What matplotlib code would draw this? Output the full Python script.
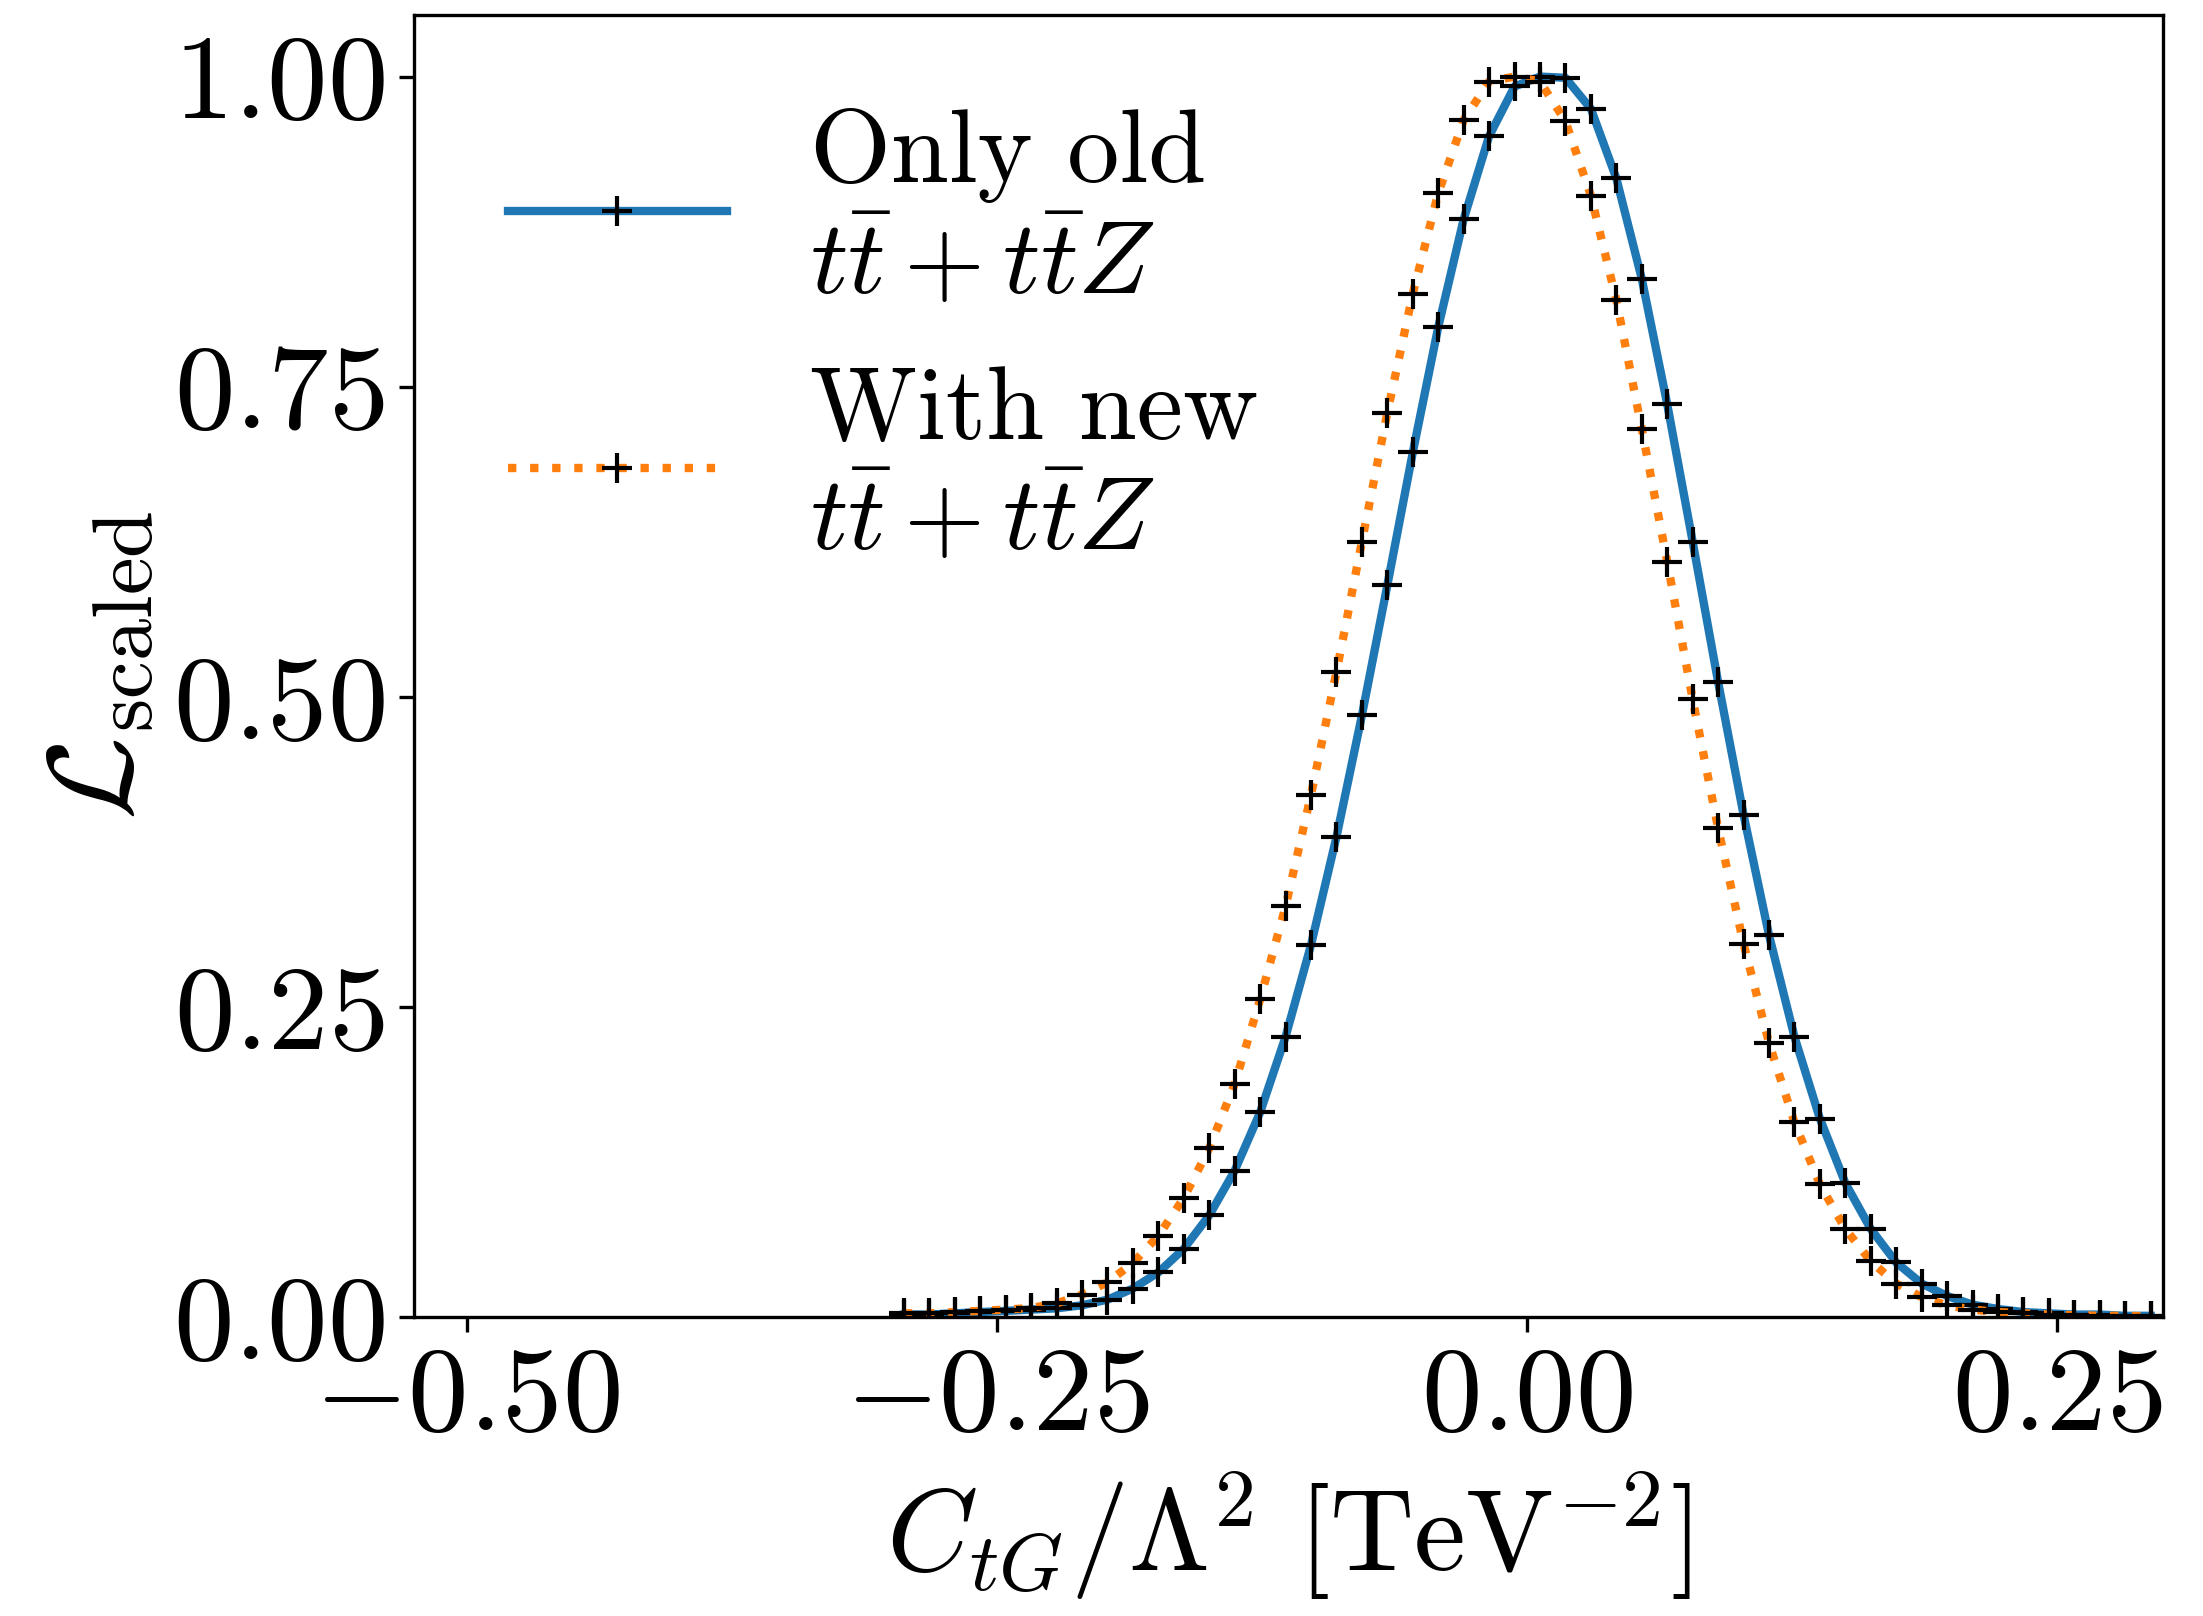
import numpy as np
import matplotlib
matplotlib.use("Agg")
import matplotlib.pyplot as plt

plt.rcParams['font.family'] = 'serif'
plt.rcParams['font.serif'] = ['cmr10']
plt.rcParams['mathtext.fontset'] = 'cm'
plt.rcParams['axes.formatter.use_mathtext'] = True

# bin centres of the likelihood scan (50 bins on [-0.3, 0.3])
edges = np.linspace(-0.3, 0.3, 51)
c_tg = 0.5 * (edges[:-1] + edges[1:])

# scaled likelihood, only old data
like_old = [0.002, 0.002, 0.003, 0.004, 0.005, 0.006, 0.007, 0.0095, 0.014, 0.023,
            0.036, 0.055, 0.082, 0.118, 0.165, 0.226, 0.300, 0.387, 0.485, 0.590,
            0.697, 0.798, 0.885, 0.952, 0.992, 1.000, 0.999, 0.974, 0.918, 0.837,
            0.736, 0.625, 0.512, 0.405, 0.308, 0.226, 0.160, 0.108, 0.071, 0.044,
            0.027, 0.017, 0.010, 0.0065, 0.004, 0.003, 0.002, 0.002, 0.001, 0.001]

# scaled likelihood, with new tt + ttZ
like_new = [0.003, 0.003, 0.004, 0.005, 0.006, 0.0073, 0.011, 0.018, 0.028, 0.0435,
            0.0655, 0.096, 0.136, 0.188, 0.256, 0.331, 0.421, 0.520, 0.625, 0.729,
            0.825, 0.906, 0.965, 0.996, 1.000, 0.996, 0.964, 0.904, 0.820, 0.716,
            0.609, 0.498, 0.394, 0.301, 0.221, 0.157, 0.107, 0.071, 0.045, 0.027,
            0.016, 0.0094, 0.006, 0.004, 0.003, 0.002, 0.0015, 0.001, 0.001, 0.0005]

labels = ['Only old\n$t\\bar{t} + t\\bar{t}Z$', 'With new\n$t\\bar{t} + t\\bar{t}Z$']

fig = plt.figure(figsize=(2203 / 300, 1616 / 300), dpi=300)
ax = fig.add_axes([0.188, 0.185, 0.794, 0.806])

ax.plot(c_tg, like_old, '-', color='#1f77b4', lw=2, marker='+', ms=7,
        mec='k', mfc='k', label=labels[0])
ax.plot(c_tg, like_new, ':', color='#ff7f0e', lw=2, marker='+', ms=7,
        mec='k', mfc='k', label=labels[1])

ax.set_xlim(-0.525, 0.30)
ax.set_ylim(0, 1.05)
ax.set_xticks([-0.5, -0.25, 0.0, 0.25])
ax.set_yticks([0.0, 0.25, 0.5, 0.75, 1.0])
ax.tick_params(labelsize=29)

ax.set_xlabel(r'$C_{tG}/\Lambda^2\ [\mathrm{TeV}^{-2}]$', fontsize=28)
ax.set_ylabel(r'$\mathcal{L}_{\mathrm{scaled}}$', fontsize=29)

ax.legend(loc='upper left', frameon=False, fontsize=25, handlelength=2.1)

fig.savefig('out.png', dpi=300)
